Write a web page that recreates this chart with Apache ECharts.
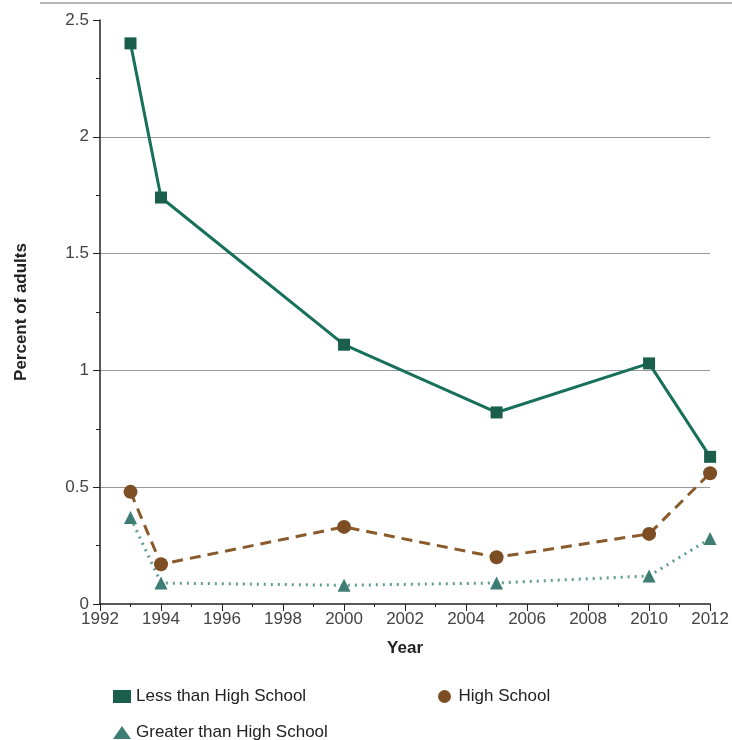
<!DOCTYPE html>
<html><head><meta charset="utf-8">
<script src="https://cdn.jsdelivr.net/npm/echarts@6/dist/echarts.min.js"></script>
<style>html,body{margin:0;padding:0;background:#fff}#c{width:732px;height:740px}</style>
</head><body><div id="c"></div>
<script>
const years = [1993, 1994, 2000, 2005, 2010, 2012];
const lessThanHS = [2.40, 1.74, 1.11, 0.82, 1.03, 0.63];
const highSchool = [0.48, 0.17, 0.33, 0.20, 0.30, 0.56];
const greaterThanHS = [0.37, 0.09, 0.08, 0.09, 0.12, 0.28];
const seriesNames = ['Less than High School', 'High School', 'Greater than High School'];

const font = 'Liberation Sans, Arial, sans-serif';
const pair = (vals) => years.map((y, i) => [y, vals[i]]);
const legendText = { fontSize: 17, color: '#222', fontFamily: font };

const chart = echarts.init(document.getElementById('c'));
chart.setOption({
  animation: false,
  backgroundColor: '#fff',
  textStyle: { fontFamily: font },
  grid: { left: 100, right: 21, top: 20, bottom: 136 },
  graphic: [{ type: 'line', shape: { x1: 40, y1: 3, x2: 732, y2: 3 }, style: { stroke: '#b5b5b5', lineWidth: 2 } }],
  xAxis: {
    type: 'value', min: 1992, max: 2012, interval: 2,
    name: 'Year', nameLocation: 'middle', nameGap: 36,
    nameTextStyle: { fontWeight: 'bold', fontSize: 17, color: '#222', fontFamily: font },
    axisLine: { show: true, lineStyle: { color: '#222', width: 1.5 } },
    axisTick: { show: true, length: 7, lineStyle: { color: '#222' } },
    minorTick: { show: true, splitNumber: 2, length: 3, lineStyle: { color: '#222' } },
    axisLabel: { color: '#444', fontSize: 17, fontFamily: font, margin: 7, formatter: (v) => String(v) },
    splitLine: { show: false }
  },
  yAxis: {
    type: 'value', min: 0, max: 2.5, interval: 0.5,
    name: 'Percent of adults', nameLocation: 'middle', nameGap: 70,
    nameTextStyle: { fontWeight: 'bold', fontSize: 17, color: '#222', fontFamily: font },
    axisLine: { show: true, lineStyle: { color: '#222', width: 1.5 } },
    axisTick: { show: true, length: 7, lineStyle: { color: '#222' } },
    minorTick: { show: true, splitNumber: 2, length: 4, lineStyle: { color: '#222' } },
    axisLabel: { color: '#444', fontSize: 17, fontFamily: font, margin: 11 },
    splitLine: { show: true, showMinLine: false, showMaxLine: false, lineStyle: { color: '#999', width: 1 } }
  },
  legend: [
    { data: [{ name: seriesNames[0], icon: 'rect' }], left: 108, top: 683, itemWidth: 18, itemHeight: 13, textStyle: legendText },
    { data: [{ name: seriesNames[1], icon: 'circle' }], left: 433, top: 683, itemWidth: 18, itemHeight: 13, textStyle: legendText },
    { data: [{ name: seriesNames[2], icon: 'triangle' }], left: 108, top: 719, itemWidth: 18, itemHeight: 13, textStyle: legendText }
  ],
  series: [
    {
      name: seriesNames[0], type: 'line', data: pair(lessThanHS),
      symbol: 'rect', symbolSize: 12,
      lineStyle: { color: '#17705a', width: 3 },
      itemStyle: { color: '#1b5e4b' }, z: 3
    },
    {
      name: seriesNames[1], type: 'line', data: pair(highSchool),
      symbol: 'circle', symbolSize: 14,
      lineStyle: { color: '#8a5a2a', width: 3, type: [11, 7] },
      itemStyle: { color: '#7d4e24' }, z: 2
    },
    {
      name: seriesNames[2], type: 'line', data: pair(greaterThanHS),
      symbol: 'triangle', symbolSize: 13,
      lineStyle: { color: '#5f9d92', width: 3, type: [2, 5] },
      itemStyle: { color: '#3e7d74' }, z: 1
    }
  ]
});
</script></body></html>
